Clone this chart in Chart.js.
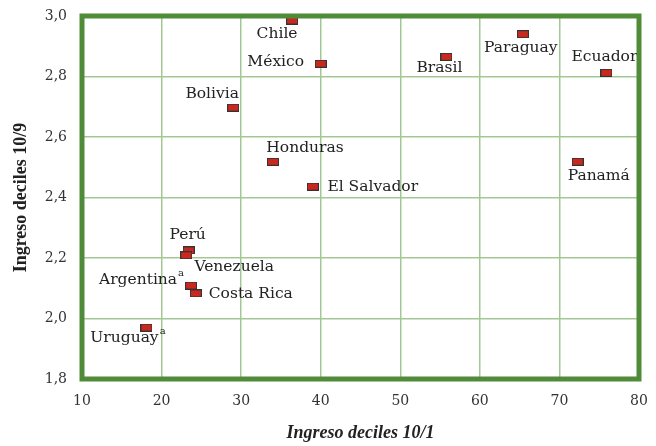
<!DOCTYPE html>
<html>
<head>
<meta charset="utf-8">
<script src="https://cdn.jsdelivr.net/npm/chart.js@4.4.1/dist/chart.umd.min.js"></script>
<style>
  html, body { margin: 0; padding: 0; background: #fff; }
  #wrap { width: 656px; height: 446px; }
</style>
</head>
<body>
<div id="wrap"><canvas id="chart"></canvas></div>
<script>
// data
const countries = ['Chile', 'México', 'Bolivia', 'Honduras', 'El Salvador', 'Brasil', 'Paraguay',
  'Ecuador', 'Panamá', 'Perú', 'Venezuela', 'Argentina', 'Costa Rica', 'Uruguay'];
const notes = ['', '', '', '', '', '', '', '', '', '', '', 'a', '', 'a'];
const ratio10to1 = [36.4, 40.0, 29.0, 34.0, 39.0, 55.8, 65.4, 75.9, 72.3, 23.4, 23.1, 23.7, 24.3, 18.1];
const ratio10to9 = [2.985, 2.842, 2.697, 2.518, 2.436, 2.865, 2.94, 2.812, 2.518, 2.225, 2.209, 2.109, 2.083, 1.97];
const xTicks = [10, 20, 30, 40, 50, 60, 70, 80];
const yTicks = [1.8, 2.0, 2.2, 2.4, 2.6, 2.8, 3.0];

// where each country name sits relative to its marker (px)
const labelOffsets = [[-15, 13], [-45, -2], [-21, -14], [32, -14], [60, 0], [-7, 11], [-2, 14],
  [-2, -16], [21, 14], [-1, -15], [48, 12], [-53, -6], [55, 1], [-22, 10]];

const green = '#4f8b38';
const gridGreen = '#a3c794';
const labelFont = '15.5px "DejaVu Serif"';

// small red rectangle used as the marker
const marker = document.createElement('canvas');
marker.width = 12;
marker.height = 8;
const mctx = marker.getContext('2d');
mctx.fillStyle = '#333';
mctx.fillRect(0, 0, 12, 8);
mctx.fillStyle = '#c8281e';
mctx.fillRect(1, 1, 10, 6);

const countryLabels = {
  id: 'countryLabels',
  afterDatasetsDraw(chart) {
    const ctx = chart.ctx;
    const meta = chart.getDatasetMeta(0);
    const area = chart.chartArea;
    ctx.save();
    ctx.fillStyle = '#222';
    ctx.textBaseline = 'middle';
    meta.data.forEach((pt, i) => {
      const cx = pt.x + labelOffsets[i][0];
      const cy = pt.y + labelOffsets[i][1];
      ctx.font = labelFont;
      ctx.textAlign = 'center';
      ctx.fillText(countries[i], cx, cy);
      if (notes[i]) {
        const w = ctx.measureText(countries[i]).width;
        ctx.font = '10px "DejaVu Serif"';
        ctx.textAlign = 'left';
        ctx.fillText(notes[i], cx + w / 2 + 1, cy - 6);
      }
    });
    // thick frame round the plot
    ctx.strokeStyle = green;
    ctx.lineWidth = 5;
    ctx.strokeRect(area.left, area.top, area.right - area.left, area.bottom - area.top);
    ctx.restore();
  }
};

new Chart(document.getElementById('chart'), {
  type: 'scatter',
  data: {
    datasets: [{
      data: ratio10to1.map((x, i) => ({ x: x, y: ratio10to9[i] })),
      pointStyle: marker,
      pointRadius: 6,
      pointHoverRadius: 6
    }]
  },
  options: {
    responsive: true,
    maintainAspectRatio: false,
    animation: false,
    events: [],
    layout: { padding: { top: 16, right: 17, left: 0, bottom: 0 } },
    plugins: {
      legend: { display: false },
      tooltip: { enabled: false }
    },
    scales: {
      x: {
        type: 'linear',
        min: 10,
        max: 80,
        afterBuildTicks: (scale) => { scale.ticks = xTicks.map(v => ({ value: v })); },
        afterFit: (scale) => {
          scale.height = 67;
          scale.paddingLeft = 0;
          scale.paddingRight = 0;
        },
        border: { display: false },
        grid: { color: gridGreen, lineWidth: 1.5, drawTicks: false },
        ticks: {
          padding: 14,
          color: '#333',
          font: { family: 'DejaVu Serif', size: 14 }
        },
        title: {
          display: true,
          text: 'Ingreso deciles 10/1',
          color: '#222',
          padding: { top: 0, bottom: 2 },
          font: { family: 'Liberation Serif', size: 18, style: 'italic', weight: 'bold' }
        }
      },
      y: {
        type: 'linear',
        min: 1.8,
        max: 3.0,
        afterBuildTicks: (scale) => { scale.ticks = yTicks.map(v => ({ value: v })); },
        afterFit: (scale) => {
          scale.width = 82;
          scale.paddingTop = 0;
          scale.paddingBottom = 0;
        },
        border: { display: false },
        grid: { color: gridGreen, lineWidth: 1.5, drawTicks: false },
        ticks: {
          padding: 15,
          color: '#333',
          font: { family: 'DejaVu Serif', size: 14 },
          callback: (v) => v.toFixed(1).replace('.', ',')
        },
        title: {
          display: true,
          text: 'Ingreso deciles 10/9',
          color: '#222',
          padding: { top: 11, bottom: 0 },
          font: { family: 'Liberation Serif', size: 18, weight: 'bold' }
        }
      }
    }
  },
  plugins: [countryLabels]
});
</script>
</body>
</html>
